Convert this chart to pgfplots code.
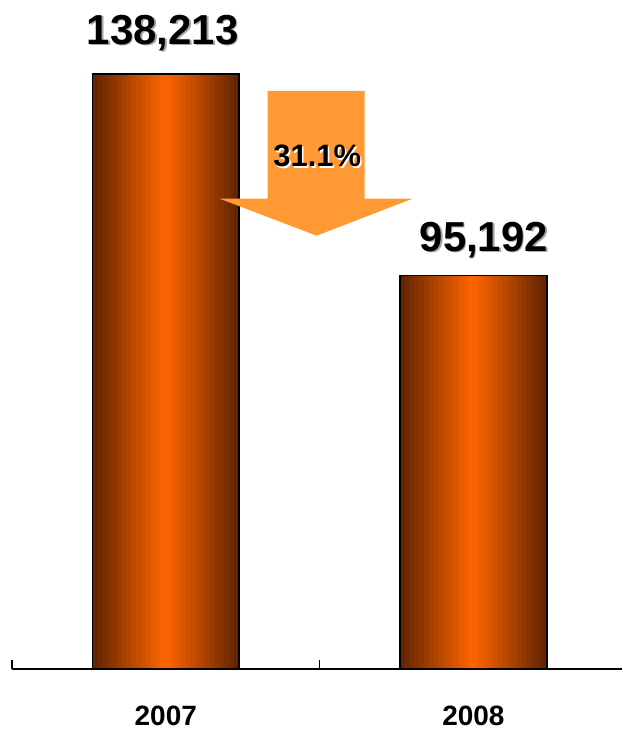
\documentclass[border=0pt]{standalone}
\usepackage{pgfplots}
\pgfplotsset{compat=1.18}
\usepackage{fontspec}
\setmainfont{Liberation Sans}
\definecolor{barEdge}{RGB}{100,36,0}
\definecolor{barMid}{RGB}{255,102,0}
\definecolor{arrowC}{RGB}{255,153,51}
\foreach \i in {0,...,29}{%
  \pgfmathtruncatemacro\p{100*abs(\i-14.5)/14.5}%
  \xglobal\colorlet{sl\i}{barEdge!\p!barMid}%
}
\newcommand{\bigfont}{\bfseries\fontsize{42}{44}\selectfont}
\begin{document}
\begin{tikzpicture}
\begin{axis}[
  name=ax,
  scale only axis, width=611pt, height=670pt,
  xmin=-0.5, xmax=1.48377, ymin=11281, ymax=153974,
  axis y line=none, axis x line=bottom,
  x axis line style={-, line width=1.6pt},
  axis on top,
  xtick={0,1}, xticklabels={2007,2008},
  minor xtick={-0.5,0.5,1.5},
  tick align=outside,
  major tick length=0pt, minor tick length=9pt,
  tick style={line width=1.6pt, black},
  minor tick style={line width=1.6pt, black, yshift=9pt},
  xticklabel style={anchor=base, yshift=-56pt, inner sep=0pt, font=\bfseries\fontsize{28}{30}\selectfont},
  ybar, bar width=147pt,
]
\pgfplotsinvokeforeach{0,...,29}{
  \addplot[draw=none, fill=sl#1, bar width=5.5pt, bar shift={(#1-14.5)*4.9pt}] coordinates {(0,138213) (1,95192)};
}
\addplot[draw=black, line width=1.5pt, fill=none, bar width=147pt, bar shift=0pt] coordinates {(0,138213) (1,95192)};
\node[anchor=base, inner sep=0pt, font=\bigfont, text=black!35, xshift=-1.5pt, yshift=28.3pt] at (axis cs:0,138213) {138,213};
\node[anchor=base, inner sep=0pt, font=\bigfont, xshift=-3pt, yshift=29.5pt] at (axis cs:0,138213) {138,213};
\node[anchor=base, inner sep=0pt, font=\bigfont, text=black!35, xshift=12pt, yshift=23.1pt] at (axis cs:1,95192) {95,192};
\node[anchor=base, inner sep=0pt, font=\bigfont, xshift=10.5pt, yshift=24.3pt] at (axis cs:1,95192) {95,192};
\end{axis}
\begin{scope}[shift={(ax.south west)}, x=1pt, y=1pt]
  \fill[arrowC] (256,579) -- (353,579) -- (353,471) -- (401,471) -- (305,434) -- (208,471) -- (256,471) -- cycle;
  \node[anchor=base, inner sep=0pt, font=\bfseries\fontsize{31}{33}\selectfont, text=white] at (307.2,501.6) {31.1\%};
  \node[anchor=base, inner sep=0pt, font=\bfseries\fontsize{31}{33}\selectfont] at (305.7,503) {31.1\%};
  \pgfresetboundingbox
  \path[use as bounding box] (-12,-60) rectangle (611,670);
\end{scope}
\end{tikzpicture}
\end{document}
